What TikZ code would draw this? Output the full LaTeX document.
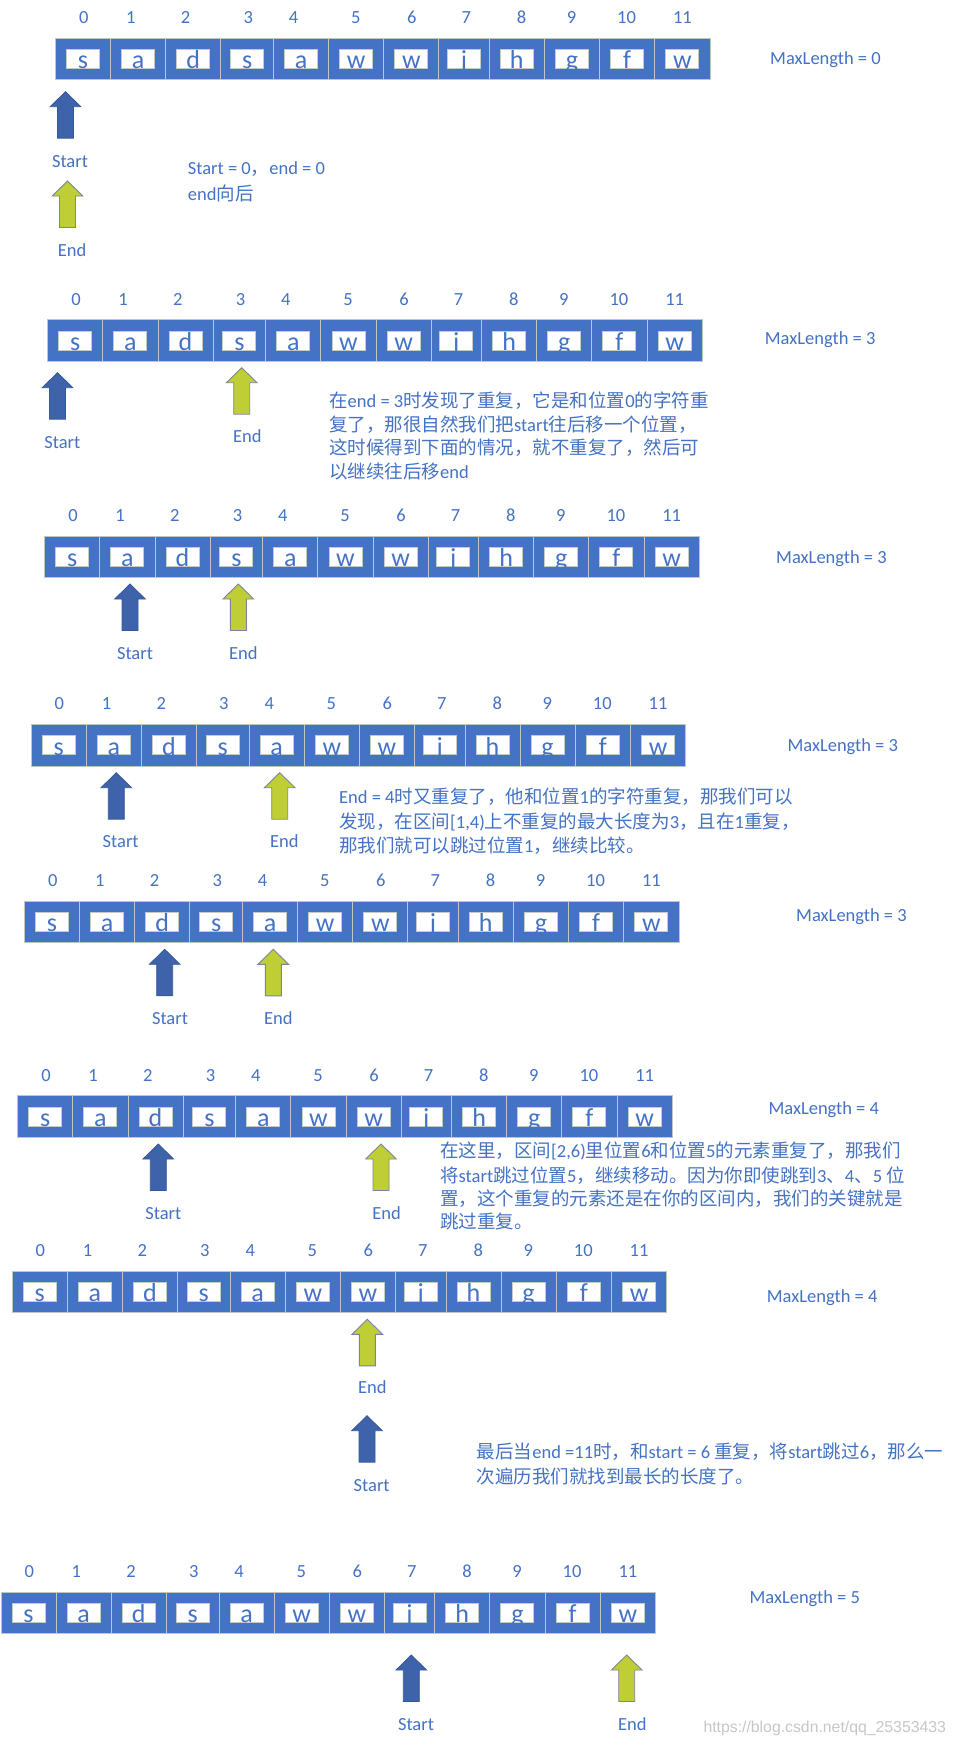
\documentclass[tikz,border=0pt]{standalone}
\usepackage{fontspec}
\setmainfont{Carlito}
\newfontfamily\cjk{Noto Sans CJK SC}
\newfontfamily\wmfont{Liberation Sans}
\newcommand\C[1]{{\cjk #1}}
\definecolor{tblue}{HTML}{4472C4}
\definecolor{cellblue}{HTML}{4472C4}
\definecolor{cellline}{HTML}{C4C4C4}
\definecolor{boxline}{HTML}{C8C8C8}
\definecolor{startfill}{HTML}{3E63AA}
\definecolor{startdraw}{HTML}{35589A}
\definecolor{endfill}{HTML}{C0CE36}
\definecolor{enddraw}{HTML}{7A8699}
\tikzset{
  txt/.style={text=tblue, font=\fontsize{18.5}{24}\selectfont, inner sep=0pt},
  cell/.style={draw=cellline, fill=cellblue, line width=1pt, inner sep=0pt, minimum height=41.5pt, anchor=north west},
  wbox/.style={draw=boxline, fill=white, line width=0.9pt, inner sep=0pt, minimum width=33pt, minimum height=19pt},
  letter/.style={text=tblue, font=\fontsize{26}{26}\selectfont, inner sep=0pt},
  startarr/.style={fill=startfill, draw=startdraw, line width=0.8pt},
  endarr/.style={fill=endfill, draw=enddraw, line width=0.9pt},
  wm/.style={text=black!22, font=\wmfont\fontsize{15.8}{18}\selectfont, inner sep=0pt}
}
% array: name, left, top
\newcommand\strarray[3]{%
  \foreach \a/\b/\ch/\o [count=\i from 0] in {0/55/s/28.7,55/110.2/a/75.8,110.2/165.2/d/130.5,165.2/218/s/193.2,218/273/a/238.5,273/328.3/w/300.7,328.3/383.3/w/356.7,383.3/433.8/j/411.2,433.8/488.8/h/466.6,488.8/544/g/516.6,544/599.2/f/571.6,599.2/654.5/w/627.4}{%
    \pgfmathsetmacro\w{\b-\a}
    \node[cell, minimum width=\w pt] (#1c\i) at ({#2+\a},#3) {};
    \node[wbox] (#1w\i) at (#1c\i.center) {};
    \begin{scope}
      \clip ([shift={(0.5pt,0.5pt)}]#1w\i.south west) rectangle ([shift={(-0.5pt,-0.5pt)}]#1w\i.north east);
      \node[letter, anchor=base] (#1t\i) at (#1w\i.south) {\ch};
    \end{scope}
    \node[txt, anchor=base] (#1n\i) at ({#2+\o},{#3-14.3}) {\i};
  }%
}
% arrows: centre x, top y
\newcommand\blockarrow[3]{%
  \filldraw[#3] ({#1-8},{#2+46.5}) -- ({#1-8},{#2+15}) -- ({#1-15.3},{#2+15}) -- (#1,#2) -- ({#1+15.3},{#2+15}) -- ({#1+8},{#2+15}) -- ({#1+8},{#2+46.5}) -- cycle;%
}
\begin{document}
\begin{tikzpicture}[x=1pt, y=-1pt]
\fill[white] (0,0) rectangle (956,1745);
\useasboundingbox (0,0) rectangle (956,1745);

% ---------- row 1 ----------
\strarray{ra}{55}{37.7}
\node[txt, anchor=base west] (ml1) at (770,64.3) {MaxLength = 0};
\blockarrow{65.5}{91.7}{startarr}
\node[txt, anchor=base] (s1) at (70,167.7) {Start};
\blockarrow{67.5}{181}{endarr}
\node[txt, anchor=base] (e1) at (72,256) {End};
\node[txt, anchor=base west] (p1a) at (187.7,174.3) {Start = 0\C{，}end = 0};
\node[txt, anchor=base west] (p1b) at (187.7,200) {end\C{向后}};

% ---------- row 2 ----------
\strarray{rb}{47.3}{319.3}
\node[txt, anchor=base west] (ml2) at (764.7,344.3) {MaxLength = 3};
\blockarrow{57.5}{372.7}{startarr}
\node[txt, anchor=base] (s2) at (62.3,448.3) {Start};
\blockarrow{241.7}{367.7}{endarr}
\node[txt, anchor=base] (e2) at (247.3,442.7) {End};
\node[txt, anchor=base west] (p2a) at (329,407) {\C{在}end = 3\C{时发现了重复，它是和位置}0\C{的字符重}};
\node[txt, anchor=base west] (p2b) at (329,431.3) {\C{复了，那很自然我们把}start\C{往后移一个位置，}};
\node[txt, anchor=base west] (p2c) at (329,454.7) {\C{这时候得到下面的情况，就不重复了，然后可}};
\node[txt, anchor=base west] (p2d) at (329,478.7) {\C{以继续往后移}end};

% ---------- row 3 ----------
\strarray{rc}{44.3}{535.7}
\node[txt, anchor=base west] (ml3) at (776,563.3) {MaxLength = 3};
\blockarrow{130}{584}{startarr}
\node[txt, anchor=base] (s3) at (135,659.3) {Start};
\blockarrow{238.3}{584}{endarr}
\node[txt, anchor=base] (e3) at (243.3,659.3) {End};

% ---------- row 4 ----------
\strarray{rd}{30.7}{724}
\node[txt, anchor=base west] (ml4) at (787.3,751.7) {MaxLength = 3};
\blockarrow{116.3}{772.7}{startarr}
\node[txt, anchor=base] (s4) at (120.7,847) {Start};
\blockarrow{279.7}{772.7}{endarr}
\node[txt, anchor=base] (e4) at (284.3,847) {End};
\node[txt, anchor=base west] (p4a) at (339,803.7) {End = 4\C{时又重复了，他和位置}1\C{的字符重复，那我们可以}};
\node[txt, anchor=base west] (p4b) at (339,828.7) {\C{发现，在区间}[1,4)\C{上不重复的最大长度为}3\C{，且在}1\C{重复，}};
\node[txt, anchor=base west] (p4c) at (339,852) {\C{那我们就可以跳过位置}1\C{，继续比较。}};

% ---------- row 5 ----------
\strarray{re}{24}{900.7}
\node[txt, anchor=base west] (ml5) at (796,921) {MaxLength = 3};
\blockarrow{164.7}{949.3}{startarr}
\node[txt, anchor=base] (s5) at (170,1024.3) {Start};
\blockarrow{273.3}{949.3}{endarr}
\node[txt, anchor=base] (e5) at (278.3,1024.3) {End};

% ---------- row 6 ----------
\strarray{rf}{17.3}{1095.3}
\node[txt, anchor=base west] (ml6) at (768.3,1114.3) {MaxLength = 4};
\blockarrow{158.3}{1144}{startarr}
\node[txt, anchor=base] (s6) at (163.3,1219.3) {Start};
\blockarrow{381}{1144}{endarr}
\node[txt, anchor=base] (e6) at (386.7,1219.3) {End};
\node[txt, anchor=base west] (p6a) at (440,1157) {\C{在这里，区间}[2,6)\C{里位置}6\C{和位置}5\C{的元素重复了，那我们}};
\node[txt, anchor=base west] (p6b) at (440,1182) {\C{将}start\C{跳过位置}5\C{，继续移动。因为你即使跳到}3\C{、}4\C{、}5 \C{位}};
\node[txt, anchor=base west] (p6c) at (440,1205.3) {\C{置，这个重复的元素还是在你的区间内，我们的关键就是}};
\node[txt, anchor=base west] (p6d) at (440,1228.7) {\C{跳过重复。}};

% ---------- row 7 ----------
\strarray{rg}{11.7}{1270.7}
\node[txt, anchor=base west] (ml7) at (766.7,1302) {MaxLength = 4};
\blockarrow{367.3}{1319.3}{endarr}
\node[txt, anchor=base] (e7) at (372.3,1393.7) {End};
\blockarrow{367}{1415.7}{startarr}
\node[txt, anchor=base] (s7) at (371.7,1491.7) {Start};
\node[txt, anchor=base west] (p7a) at (476.7,1458.7) {\C{最后当}end =11\C{时，和}start = 6 \C{重复，将}start\C{跳过}6\C{，那么一}};
\node[txt, anchor=base west] (p7b) at (476.7,1483.7) {\C{次遍历我们就找到最长的长度了。}};

% ---------- row 8 ----------
\strarray{rh}{0.5}{1591.7}
\node[txt, anchor=base west] (ml8) at (749.3,1603.3) {MaxLength = 5};
\blockarrow{411.3}{1655}{startarr}
\node[txt, anchor=base] (s8) at (416,1730.3) {Start};
\blockarrow{626.7}{1655}{endarr}
\node[txt, anchor=base] (e8) at (632.3,1730.3) {End};

\node[wm, anchor=base west] (wmark) at (703.3,1732.5) {https://blog.csdn.net/qq\_25353433};
\end{tikzpicture}
\end{document}
